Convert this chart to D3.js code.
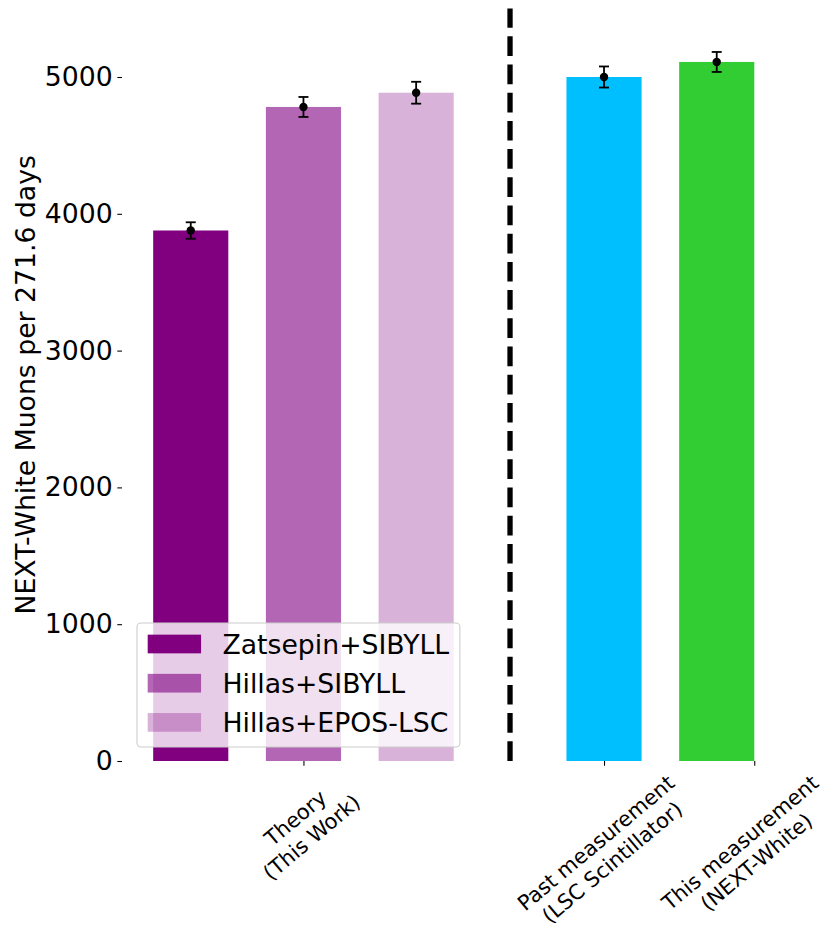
<!DOCTYPE html>
<html>
<head>
<meta charset="utf-8">
<script src="https://cdn.jsdelivr.net/npm/d3@7"></script>
<style>
  html, body { margin: 0; padding: 0; background: #fff; }
  svg { display: block; font-family: "DejaVu Sans", sans-serif; }
</style>
</head>
<body>
<svg id="chart" width="825" height="928"></svg>
<script>
// Muon counts: theory predictions vs. measurements
const barLabels = ["Zatsepin+SIBYLL", "Hillas+SIBYLL", "Hillas+EPOS-LSC", "Past measurement", "This measurement"];
const barValues = [3878, 4781, 4885, 5000, 5110];
const barErrors = [60, 73, 80, 77, 73];
const barSlots = [0, 1, 2, 3.667, 4.667];          // x position of each bar (data units)
const barColors = ["#800080", "#800080", "#800080", "#00bfff", "#32cd32"];
const barAlpha = [1, 0.6, 0.3, 1, 1];
const legendItems = [0, 1, 2];                     // indices of bars shown in the legend
const tickSlots = [1, 3.667, 5];
const tickLabels = [
  ["Theory", "(This Work)"],
  ["Past measurement", "(LSC Scintillator)"],
  ["This measurement", "(NEXT-White)"]
];
const yTicks = [0, 1000, 2000, 3000, 4000, 5000];
const dividerAt = 2.833;
const yLabel = "NEXT-White Muons per 271.6 days";

const svg = d3.select("#chart");
const W = +svg.attr("width");
const fsBig = 26.7, fsTick = 21;
const barWidth = 2 / 3;

const x = d3.scaleLinear().domain([-0.61, 5.35]).range([122, 793.7]);
const y = d3.scaleLinear().domain([0, 5500]).range([761, 8.6]);

// bars
svg.append("g").selectAll("rect").data(barValues).join("rect")
  .attr("x", (d, i) => x(barSlots[i] - barWidth / 2))
  .attr("width", (d, i) => x(barSlots[i] + barWidth / 2) - x(barSlots[i] - barWidth / 2))
  .attr("y", d => y(d))
  .attr("height", d => y(0) - y(d))
  .attr("fill", (d, i) => barColors[i])
  .attr("fill-opacity", (d, i) => barAlpha[i]);

// error bars
const eb = svg.append("g").attr("stroke", "#000").attr("stroke-width", 1.8);
barValues.forEach((v, i) => {
  const cx = x(barSlots[i]);
  const e = barErrors[i];
  eb.append("line").attr("x1", cx).attr("x2", cx).attr("y1", y(v - e)).attr("y2", y(v + e));
  [v - e, v + e].forEach(t => {
    eb.append("line").attr("x1", cx - 5).attr("x2", cx + 5).attr("y1", y(t)).attr("y2", y(t));
  });
  svg.append("circle").attr("cx", cx).attr("cy", y(v)).attr("r", 4.2).attr("fill", "#000");
});

// divider between theory and measurements
svg.append("line")
  .attr("x1", x(dividerAt)).attr("x2", x(dividerAt))
  .attr("y1", y(0)).attr("y2", y(5500))
  .attr("stroke", "#000").attr("stroke-width", 5.3)
  .attr("stroke-dasharray", "19.7,8.5");

// y axis
const yAxis = svg.append("g").attr("transform", `translate(${x.range()[0]},0)`)
  .call(d3.axisLeft(y).tickValues(yTicks).tickFormat(d3.format("d")).tickSize(4.7).tickPadding(4.7));
yAxis.select(".domain").remove();
yAxis.selectAll(".tick line").attr("stroke", "#000").attr("stroke-width", 1.07);
yAxis.selectAll("text").attr("font-size", fsBig).attr("font-family", "DejaVu Sans").attr("fill", "#000");

svg.append("text")
  .attr("transform", `translate(34.5,${(y.range()[0] + y.range()[1]) / 2}) rotate(-90)`)
  .attr("text-anchor", "middle")
  .attr("font-size", fsBig)
  .attr("fill", "#000")
  .text(yLabel);

// x ticks
const xAxis = svg.append("g").attr("transform", `translate(0,${y(0)})`)
  .call(d3.axisBottom(x).tickValues(tickSlots).tickFormat("").tickSize(4.7));
xAxis.select(".domain").remove();
xAxis.selectAll(".tick line").attr("stroke", "#000").attr("stroke-width", 1.07);

// rotated, centred two-line tick labels (the last one nudged slightly inward)
const ang = 40 * Math.PI / 180;
const labelTop = y(0) + 4.7 + 4.7;
tickLabels.forEach((lines, i) => {
  const g = svg.append("g");
  const lh = 1.2 * fsTick;
  const texts = lines.map((s, k) => g.append("text")
    .attr("text-anchor", "middle")
    .attr("font-size", fsTick)
    .attr("fill", "#000")
    .attr("y", (k - 0.5) * lh + 0.35 * fsTick)
    .text(s));
  const w = d3.max(texts, t => t.node().getComputedTextLength());
  const h = lh + 1.15 * fsTick;
  const H = w * Math.sin(ang) + h * Math.cos(ang);
  let cx = x(tickSlots[i]);
  const cy = labelTop + H / 2;
  g.attr("transform", `translate(${cx},${cy}) rotate(-40)`);
  const r = g.node().getBoundingClientRect();
  const over = r.right - W;
  if (over > 0) {
    cx -= Math.min(over, 6);
    g.attr("transform", `translate(${cx},${cy}) rotate(-40)`);
  }
});

// legend
const pad = 0.4 * fsBig, handleLen = 2.0 * fsBig, handleH = 0.7 * fsBig;
const textGap = 0.8 * fsBig, rowStep = 39.2;
const lg = svg.append("g");
const box = lg.append("rect").attr("rx", 4).attr("ry", 4)
  .attr("fill", "#fff").attr("fill-opacity", 0.8)
  .attr("stroke", "#cccccc").attr("stroke-width", 1.07);
const left = x.range()[0] + 15;
const boxH = 124, boxBottom = y(0) - 14;
const boxTop = boxBottom - boxH;
let maxW = 0;
legendItems.forEach((bi, k) => {
  const cy = boxTop + 21 + k * rowStep;
  lg.append("rect")
    .attr("x", left + pad).attr("y", cy - handleH / 2)
    .attr("width", handleLen).attr("height", handleH)
    .attr("fill", barColors[bi]).attr("fill-opacity", barAlpha[bi]);
  const t = lg.append("text")
    .attr("x", left + pad + handleLen + textGap).attr("y", cy + 9.6)
    .attr("font-size", fsBig).attr("fill", "#000")
    .text(barLabels[bi]);
  maxW = Math.max(maxW, t.node().getComputedTextLength());
});
box.attr("x", left).attr("y", boxTop)
  .attr("width", pad + handleLen + textGap + maxW + pad)
  .attr("height", boxH);
</script>
</body>
</html>
